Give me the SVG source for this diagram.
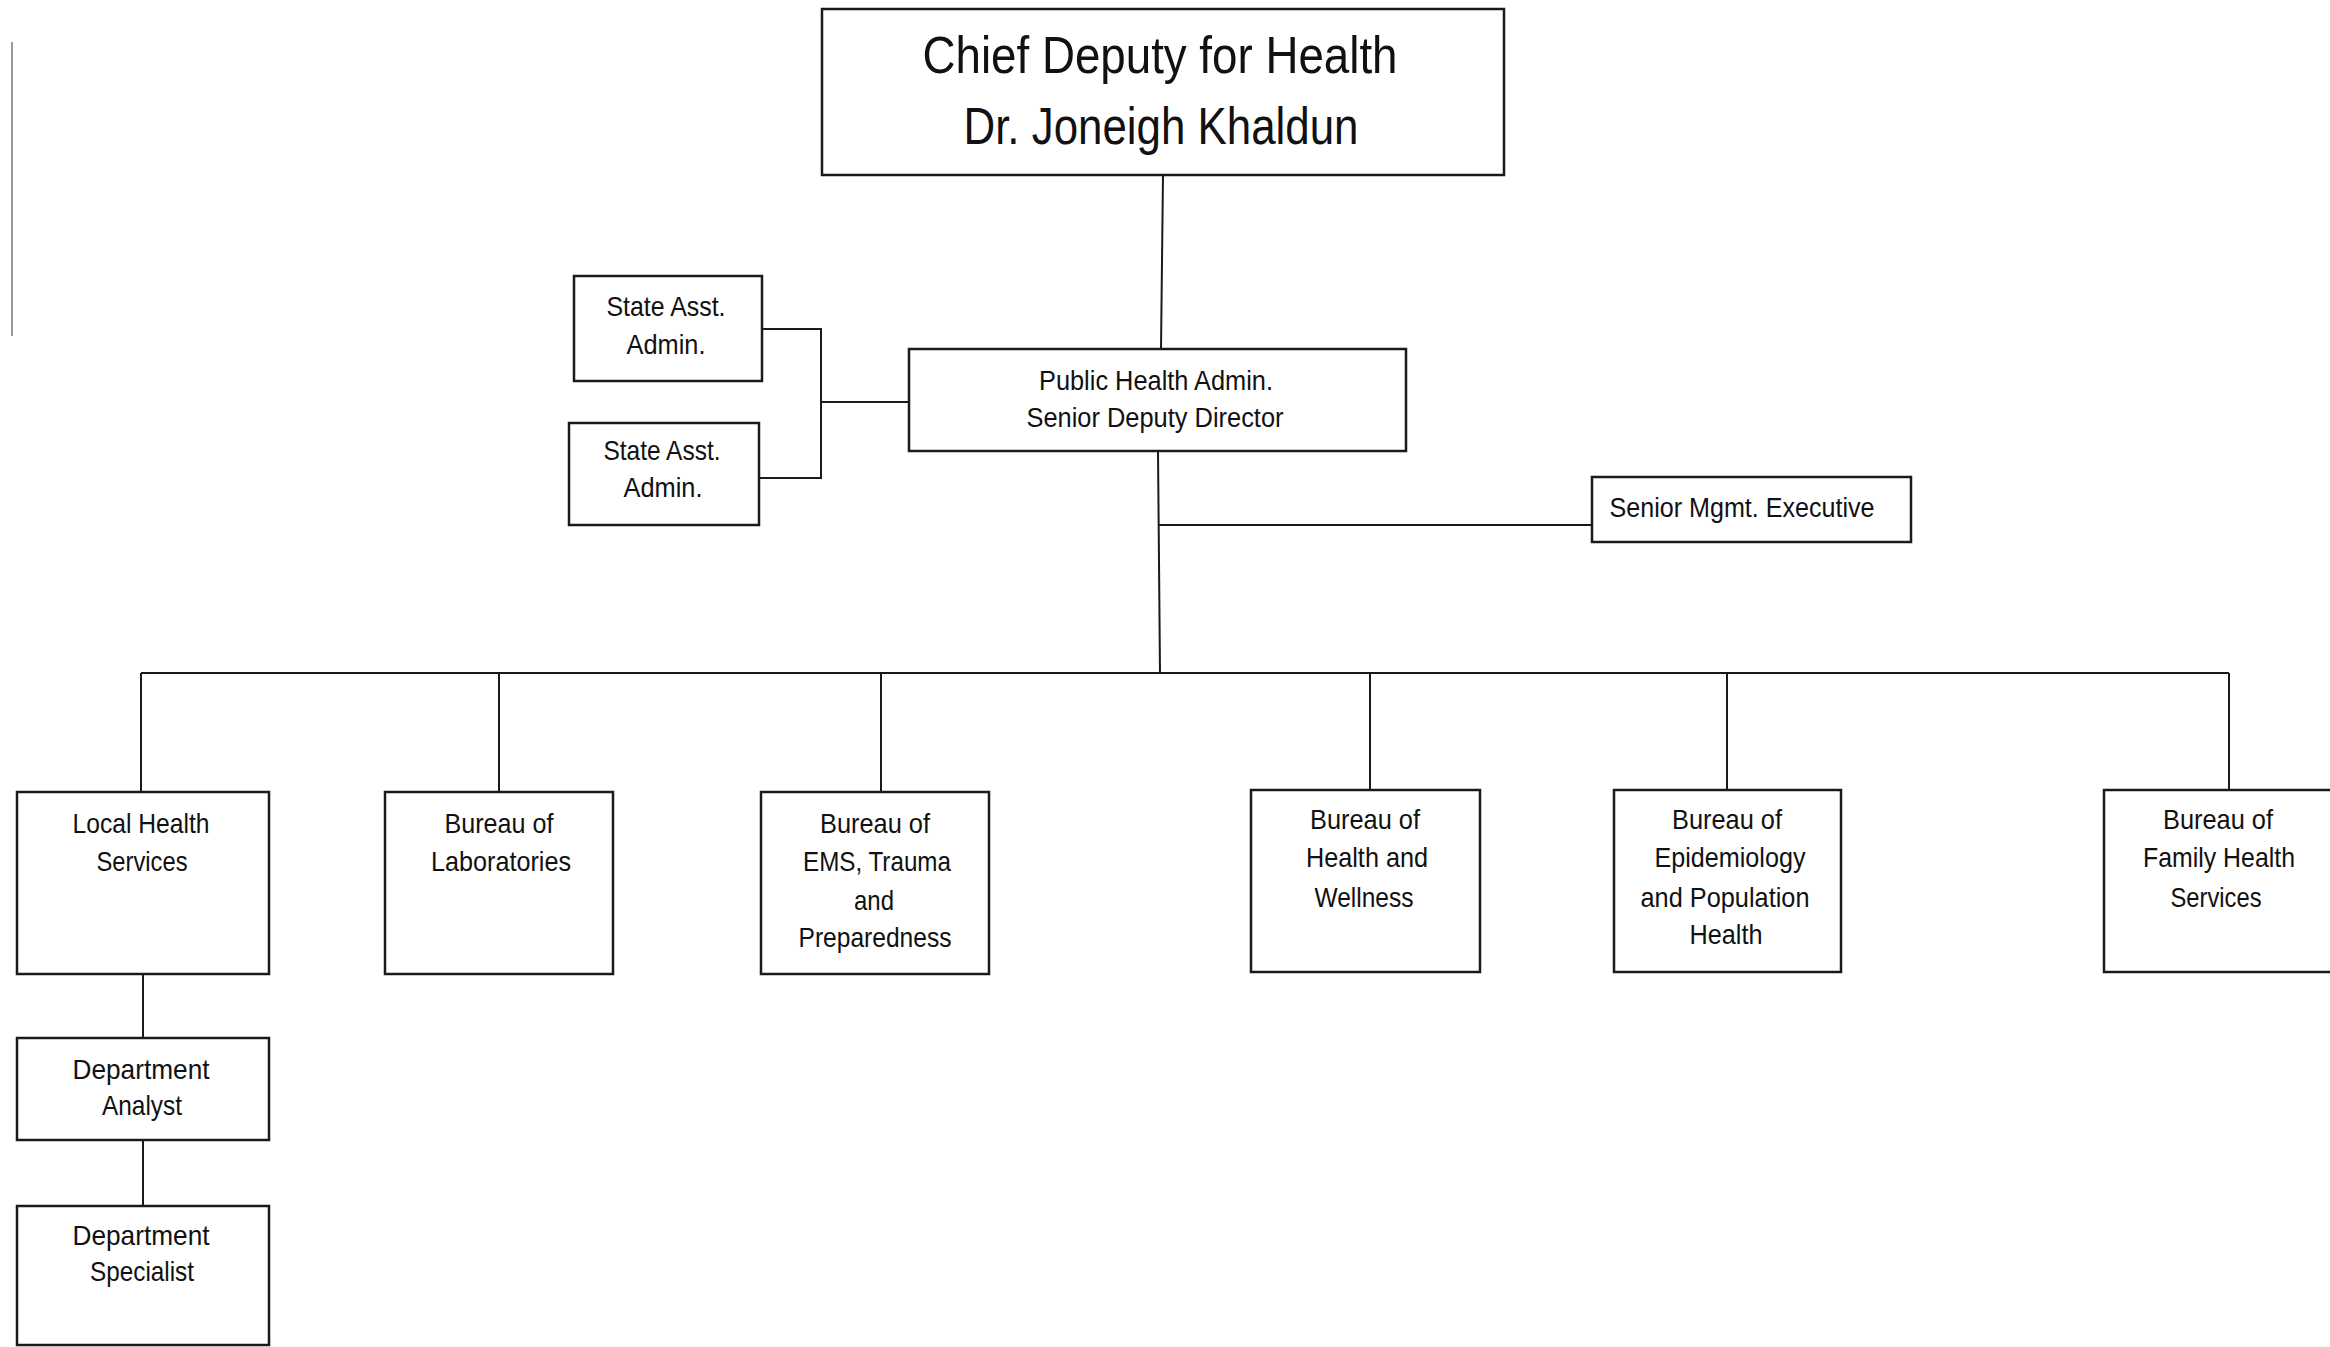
<svg xmlns="http://www.w3.org/2000/svg" width="2330" height="1347" viewBox="0 0 2330 1347">
<style>
rect.box{fill:#fff;stroke:#1a1a1a;stroke-width:2.5}
.conn line,.conn polyline{stroke:#1a1a1a;stroke-width:2;fill:none}
text{font-family:"Liberation Sans Narrow","Liberation Sans",Arial,sans-serif;fill:#111;text-anchor:middle;font-size:28px}
text.title{font-size:52px}
text.mid{font-size:27px}
</style>
<rect width="2330" height="1347" fill="#fff"/>
<line x1="12" y1="42" x2="12" y2="336" stroke="#777" stroke-width="1.5"/>
<g class="conn" id="connectors">
<line x1="1163" y1="175" x2="1161" y2="349"/>
<polyline points="762,329 821,329 821,478 759,478"/>
<line x1="821" y1="402" x2="909" y2="402"/>
<line x1="1158" y1="451" x2="1160" y2="673"/>
<line x1="1158" y1="525" x2="1592" y2="525"/>
<line x1="141" y1="673" x2="2229" y2="673"/>
<line x1="141" y1="673" x2="141" y2="792"/>
<line x1="499" y1="673" x2="499" y2="792"/>
<line x1="881" y1="673" x2="881" y2="792"/>
<line x1="1370" y1="673" x2="1370" y2="790"/>
<line x1="1727" y1="673" x2="1727" y2="790"/>
<line x1="2229" y1="673" x2="2229" y2="790"/>
<line x1="143" y1="974" x2="143" y2="1038"/>
<line x1="143" y1="1140" x2="143" y2="1206"/>
</g>
<g id="chief">
<rect class="box" x="822" y="9" width="682" height="166"/>
<text class="title" x="1160" y="73" textLength="475" lengthAdjust="spacingAndGlyphs">Chief Deputy for Health</text>
<text class="title" x="1161" y="144" textLength="395" lengthAdjust="spacingAndGlyphs">Dr. Joneigh Khaldun</text>
</g>
<g id="public-health">
<rect class="box" x="909" y="349" width="497" height="102"/>
<text class="mid" x="1156" y="390" textLength="234" lengthAdjust="spacingAndGlyphs">Public Health Admin.</text>
<text class="mid" x="1155" y="427" textLength="257" lengthAdjust="spacingAndGlyphs">Senior Deputy Director</text>
</g>
<g id="state-asst-1">
<rect class="box" x="574" y="276" width="188" height="105"/>
<text x="666" y="316" textLength="119" lengthAdjust="spacingAndGlyphs">State Asst.</text>
<text x="666" y="354" textLength="79" lengthAdjust="spacingAndGlyphs">Admin.</text>
</g>
<g id="state-asst-2">
<rect class="box" x="569" y="423" width="190" height="102"/>
<text x="662" y="460" textLength="117" lengthAdjust="spacingAndGlyphs">State Asst.</text>
<text x="663" y="497" textLength="79" lengthAdjust="spacingAndGlyphs">Admin.</text>
</g>
<g id="senior-mgmt">
<rect class="box" x="1592" y="477" width="319" height="65"/>
<text class="mid" x="1742" y="517" textLength="265" lengthAdjust="spacingAndGlyphs">Senior Mgmt. Executive</text>
</g>
<g id="local-health">
<rect class="box" x="17" y="792" width="252" height="182"/>
<text x="141" y="833" textLength="137" lengthAdjust="spacingAndGlyphs">Local Health</text>
<text x="142" y="871" textLength="91" lengthAdjust="spacingAndGlyphs">Services</text>
</g>
<g id="laboratories">
<rect class="box" x="385" y="792" width="228" height="182"/>
<text x="499" y="833" textLength="109" lengthAdjust="spacingAndGlyphs">Bureau of</text>
<text x="501" y="871" textLength="140" lengthAdjust="spacingAndGlyphs">Laboratories</text>
</g>
<g id="ems">
<rect class="box" x="761" y="792" width="228" height="182"/>
<text x="875" y="833" textLength="110" lengthAdjust="spacingAndGlyphs">Bureau of</text>
<text x="877" y="871" textLength="148" lengthAdjust="spacingAndGlyphs">EMS, Trauma</text>
<text x="874" y="910" textLength="40" lengthAdjust="spacingAndGlyphs">and</text>
<text x="875" y="947" textLength="153" lengthAdjust="spacingAndGlyphs">Preparedness</text>
</g>
<g id="health-wellness">
<rect class="box" x="1251" y="790" width="229" height="182"/>
<text x="1365" y="829" textLength="110" lengthAdjust="spacingAndGlyphs">Bureau of</text>
<text x="1367" y="867" textLength="122" lengthAdjust="spacingAndGlyphs">Health and</text>
<text x="1364" y="907" textLength="99" lengthAdjust="spacingAndGlyphs">Wellness</text>
</g>
<g id="epidemiology">
<rect class="box" x="1614" y="790" width="227" height="182"/>
<text x="1727" y="829" textLength="110" lengthAdjust="spacingAndGlyphs">Bureau of</text>
<text x="1730" y="867" textLength="151" lengthAdjust="spacingAndGlyphs">Epidemiology</text>
<text x="1725" y="907" textLength="169" lengthAdjust="spacingAndGlyphs">and Population</text>
<text x="1726" y="944" textLength="73" lengthAdjust="spacingAndGlyphs">Health</text>
</g>
<g id="family-health">
<rect class="box" x="2104" y="790" width="230" height="182"/>
<text x="2218" y="829" textLength="110" lengthAdjust="spacingAndGlyphs">Bureau of</text>
<text x="2219" y="867" textLength="152" lengthAdjust="spacingAndGlyphs">Family Health</text>
<text x="2216" y="907" textLength="91" lengthAdjust="spacingAndGlyphs">Services</text>
</g>
<g id="dept-analyst">
<rect class="box" x="17" y="1038" width="252" height="102"/>
<text x="141" y="1079" textLength="137" lengthAdjust="spacingAndGlyphs">Department</text>
<text x="142" y="1115" textLength="80" lengthAdjust="spacingAndGlyphs">Analyst</text>
</g>
<g id="dept-specialist">
<rect class="box" x="17" y="1206" width="252" height="139"/>
<text x="141" y="1245" textLength="137" lengthAdjust="spacingAndGlyphs">Department</text>
<text x="142" y="1281" textLength="104" lengthAdjust="spacingAndGlyphs">Specialist</text>
</g>
</svg>
